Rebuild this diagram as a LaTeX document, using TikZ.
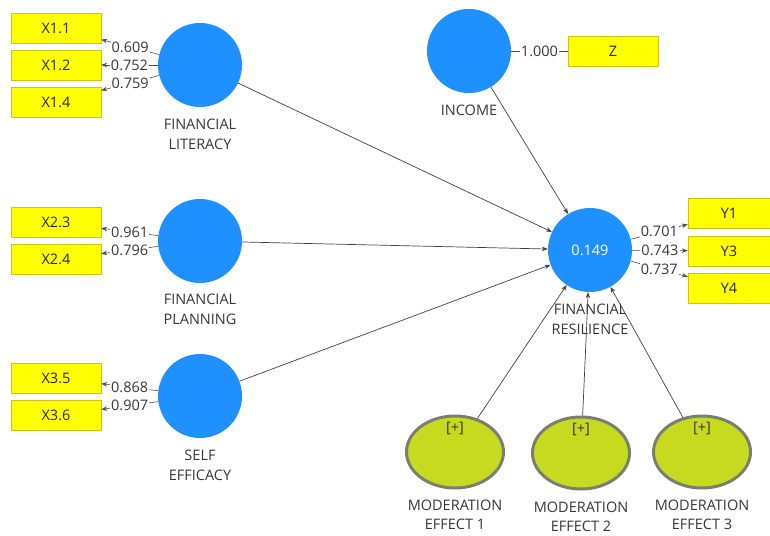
\documentclass[tikz,border=0pt]{standalone}
\usepackage{fontspec}
\setmainfont{Open Sans}
\usetikzlibrary{calc,arrows.meta,positioning,shapes.geometric}
\definecolor{plsblue}{RGB}{30,144,255}
\definecolor{plsyellow}{RGB}{255,255,0}
\definecolor{plsedge}{RGB}{205,195,20}
\definecolor{plsgreen}{RGB}{200,218,32}
\definecolor{plsgray}{RGB}{122,128,112}
\definecolor{plstext}{RGB}{55,55,55}
\tikzset{plsmodel/.style={
  x=1pt,y=-1pt,
  >={Stealth[length=6pt,width=4.5pt]},line join=round,
  font=\fontsize{14.5}{19.5}\selectfont,text=plstext
},
latent/.style={circle,fill=plsblue,minimum size=84pt,inner sep=0pt},
indicator/.style={rectangle,draw=plsedge,fill=plsyellow,minimum height=30pt,
  minimum width=90pt,inner sep=0pt,text=black!85},
moderator/.style={ellipse,draw=plsgray,line width=3pt,fill=plsgreen,
  minimum width=97pt,minimum height=72pt},
caption/.style={align=center,inner sep=0pt},
loading/.style={fill=white,inner sep=1pt,pos=0.5},
outer/.style={->,draw=black!70,line width=0.6pt},
relation/.style={->,draw=black!75,line width=0.7pt}
}
\begin{document}
\begin{tikzpicture}[plsmodel]
  \useasboundingbox (0,0) rectangle (770,535);
  % constructs
  \node[latent] (fl) at (200,65) {};
  \node[latent] (fp) at (200,241) {};
  \node[latent] (se) at (200,396) {};
  \node[latent] (inc) at (469,51) {};
  \node[latent,text=white] (fr) at (590,250) {0.149};
  \node[caption,below=12pt of fl] (flcap) {FINANCIAL\\LITERACY};
  \node[caption,below=11pt of fp] (fpcap) {FINANCIAL\\PLANNING};
  \node[caption,below=12pt of se] (secap) {SELF\\EFFICACY};
  \node[caption,below=12pt of inc] (inccap) {INCOME};
  \node[caption,below=12pt of fr] (frcap) {FINANCIAL\\RESILIENCE};
  % moderating effects
  \node[moderator] (me1) at (455,452) {};
  \node[moderator] (me2) at (581,453) {};
  \node[moderator] (me3) at (702,452) {};
  \node (me1p) at ($(me1.north)+(0,14)$) {[+]};
  \node (me2p) at ($(me2.north)+(0,14)$) {[+]};
  \node (me3p) at ($(me3.north)+(0,14)$) {[+]};
  \node[caption,below=10pt of me1] (me1cap) {MODERATION\\EFFECT 1};
  \node[caption,below=11pt of me2] (me2cap) {MODERATION\\EFFECT 2};
  \node[caption,below=10pt of me3] (me3cap) {MODERATION\\EFFECT 3};
  % indicators
  \node[indicator] (x11) at (56,28) {X1.1};
  \node[indicator] (x12) at (56,65) {X1.2};
  \node[indicator] (x14) at (56,102) {X1.4};
  \node[indicator] (x23) at (56,222.5) {X2.3};
  \node[indicator] (x24) at (56,259.5) {X2.4};
  \node[indicator] (x35) at (56,378) {X3.5};
  \node[indicator] (x36) at (56,415.5) {X3.6};
  \node[indicator] (z) at (613,51) {Z};
  \node[indicator,minimum width=82pt] (y1) at (729,213.5) {Y1};
  \node[indicator,minimum width=82pt] (y3) at (729,251) {Y3};
  \node[indicator,minimum width=82pt] (y4) at (729,288) {Y4};
  % outer loadings
  \draw[outer] (fl) -- node[loading] {0.609} (x11);
  \draw[outer] (fl) -- node[loading] {0.752} (x12);
  \draw[outer] (fl) -- node[loading] {0.759} (x14);
  \draw[outer] (fp) -- node[loading] {0.961} (x23);
  \draw[outer] (fp) -- node[loading] {0.796} (x24);
  \draw[outer] (se) -- node[loading] {0.868} (x35);
  \draw[outer] (se) -- node[loading] {0.907} (x36);
  \draw[outer,-] (inc) -- node[loading] {1.000} (z);
  \draw[outer] (fr) -- node[loading] {0.701} (y1);
  \draw[outer] (fr) -- node[loading] {0.743} (y3);
  \draw[outer] (fr) -- node[loading] {0.737} (y4);
  % inner model
  \draw[relation] (fl) -- (fr);
  \draw[relation] (fp) -- (fr);
  \draw[relation] (se) -- (fr);
  \draw[relation] (inc) -- (fr);
  \draw[relation] (me1) -- (fr);
  \draw[relation] (me2) -- (fr);
  \draw[relation] (me3) -- (fr);
\end{tikzpicture}
\end{document}
